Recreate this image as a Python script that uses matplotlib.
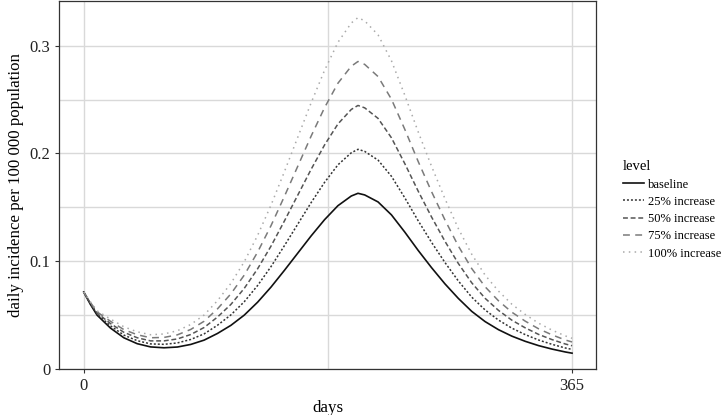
import matplotlib
matplotlib.use('Agg')
import matplotlib.pyplot as plt
from matplotlib.ticker import FixedLocator

plt.rcParams['font.family'] = ['Liberation Serif', 'DejaVu Serif']

days = [0, 5, 10, 20, 30, 40, 50, 60, 70, 80, 90, 100, 110, 120, 130, 140, 150,
        160, 170, 180, 190, 200, 205, 210, 220, 230, 240, 250, 260, 270, 280,
        290, 300, 310, 320, 330, 340, 350, 360, 365]

baseline = [0.0714, 0.0600, 0.0500, 0.0380, 0.0290, 0.0235, 0.0205, 0.0197, 0.0204,
            0.0228, 0.0268, 0.0330, 0.0405, 0.0500, 0.0620, 0.0760, 0.0915,
            0.1075, 0.1235, 0.1385, 0.1515, 0.1605, 0.1630, 0.1615, 0.1550,
            0.1430, 0.1270, 0.1100, 0.0940, 0.0790, 0.0655, 0.0535, 0.0440,
            0.0365, 0.0305, 0.0257, 0.0217, 0.0185, 0.0158, 0.0147]

inc25 = [0.0714, 0.0606, 0.0510, 0.0401, 0.0315, 0.0263, 0.0233, 0.0229, 0.0242,
         0.0274, 0.0326, 0.0406, 0.0502, 0.0624, 0.0775, 0.0950, 0.1144,
         0.1344, 0.1544, 0.1731, 0.1894, 0.2006, 0.2038, 0.2019, 0.1938,
         0.1788, 0.1588, 0.1375, 0.1175, 0.0988, 0.0817, 0.0667, 0.0548,
         0.0454, 0.0379, 0.0319, 0.0269, 0.0229, 0.0195, 0.0182]

inc50 = [0.0714, 0.0612, 0.0520, 0.0422, 0.0341, 0.0290, 0.0261, 0.0261, 0.0279,
         0.0320, 0.0385, 0.0482, 0.0599, 0.0748, 0.0930, 0.1140, 0.1373,
         0.1613, 0.1853, 0.2078, 0.2273, 0.2408, 0.2445, 0.2423, 0.2325,
         0.2145, 0.1905, 0.1650, 0.1410, 0.1185, 0.0979, 0.0800, 0.0656,
         0.0544, 0.0453, 0.0382, 0.0321, 0.0273, 0.0232, 0.0216]

inc75 = [0.0714, 0.0618, 0.0530, 0.0443, 0.0366, 0.0318, 0.0290, 0.0293, 0.0317,
         0.0367, 0.0443, 0.0558, 0.0697, 0.0871, 0.1085, 0.1330, 0.1601,
         0.1881, 0.2161, 0.2424, 0.2651, 0.2809, 0.2853, 0.2826, 0.2713,
         0.2503, 0.2223, 0.1925, 0.1645, 0.1383, 0.1141, 0.0932, 0.0763,
         0.0633, 0.0527, 0.0444, 0.0373, 0.0317, 0.0269, 0.0251]

inc100 = [0.0714, 0.0624, 0.0540, 0.0464, 0.0392, 0.0345, 0.0318, 0.0325, 0.0355,
          0.0413, 0.0501, 0.0634, 0.0794, 0.0995, 0.1240, 0.1520, 0.1830,
          0.2150, 0.2470, 0.2770, 0.3030, 0.3210, 0.3260, 0.3230, 0.3100,
          0.2860, 0.2540, 0.2200, 0.1880, 0.1580, 0.1303, 0.1065, 0.0871,
          0.0723, 0.0601, 0.0506, 0.0425, 0.0361, 0.0307, 0.0285]

levels = ['baseline', '25% increase', '50% increase', '75% increase', '100% increase']
series = [baseline, inc25, inc50, inc75, inc100]
colors = ['#111111', '#333333', '#555555', '#7a7a7a', '#aaaaaa']
styles = ['-', (0, (1.3, 1.3)), (0, (3.2, 1.8)), (0, (4.5, 3.5)), (0, (1, 2.8))]

fig = plt.figure(figsize=(7.21, 4.15), dpi=100)
ax = fig.add_axes([0.0822, 0.1108, 0.7451, 0.8868])

for lab, vals, c, ls in zip(levels, series, colors, styles):
    ax.plot(days, vals, color=c, linestyle=ls, lw=1.2 if ls == '-' else 1.1, label=lab)

ax.set_xlim(-18.25, 383.25)
ax.set_ylim(0, 0.3414)
ax.xaxis.set_major_locator(FixedLocator([0, 365]))
ax.xaxis.set_minor_locator(FixedLocator([182.5]))
ax.yaxis.set_major_locator(FixedLocator([0, 0.1, 0.2, 0.3]))
ax.yaxis.set_minor_locator(FixedLocator([0.05, 0.15, 0.25]))
ax.set_yticklabels(['0', '0.1', '0.2', '0.3'])
ax.grid(which='major', color='#d9d9d9', lw=1.0)
ax.grid(which='minor', color='#d9d9d9', lw=1.0)
ax.set_axisbelow(True)
ax.tick_params(which='major', length=3, width=0.8, color='#333333', labelsize=12, labelcolor='#222222')
ax.tick_params(which='minor', length=0)
for s in ax.spines.values():
    s.set_color('#333333')
    s.set_linewidth(0.9)

ax.set_xlabel('days', fontsize=12.2)
ax.set_ylabel('daily incidence per 100 000 population', fontsize=12.2)

leg = ax.legend(title='level', loc='center left', bbox_to_anchor=(0.864, 0.494),
                bbox_transform=fig.transFigure, frameon=False, fontsize=9,
                title_fontsize=10.5, handlelength=1.7, handletextpad=0.3,
                labelspacing=0.42, borderaxespad=0, borderpad=0)
leg._legend_box.align = 'left'

fig.savefig('out.png', dpi=100)
